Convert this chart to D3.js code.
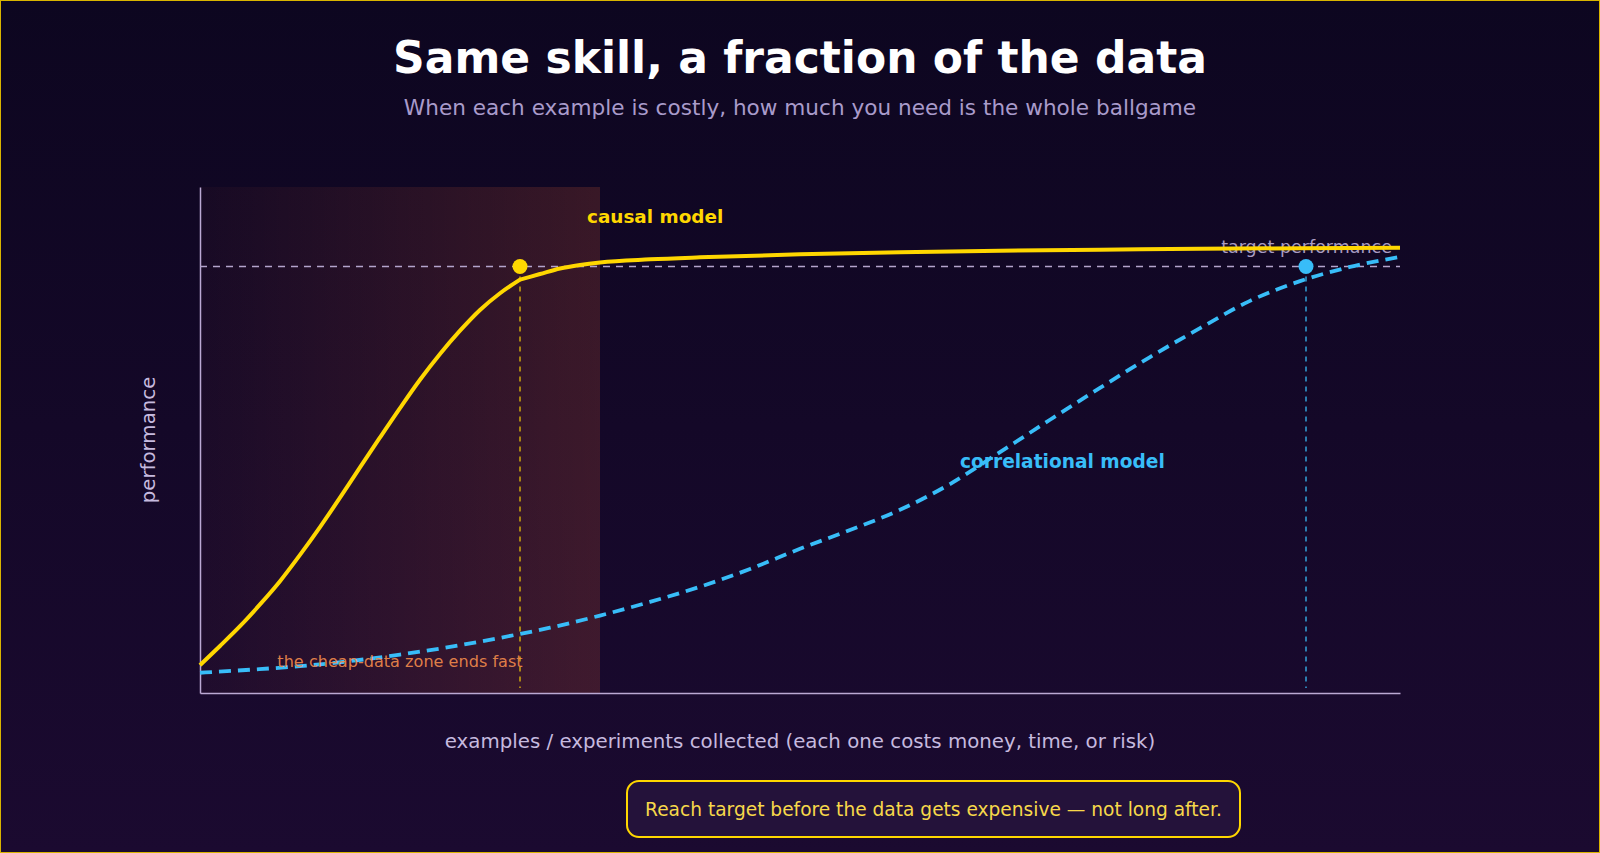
<!DOCTYPE html>
<html>
<head>
<meta charset="utf-8">
<script src="https://cdn.jsdelivr.net/npm/d3@7"></script>
<style>
  html, body { margin: 0; padding: 0; background: #0e0621; }
  svg { display: block; }
  text { font-family: "DejaVu Sans", sans-serif; }
</style>
</head>
<body>
<svg id="chart" width="1600" height="853"></svg>
<script>
// ---- data ----
// causal model: rising phase up to the kink, then the plateau phase
const causalRiseX = [0, 2, 4, 6, 8, 10, 12, 14, 16, 18, 20, 22, 24, 26, 28, 30, 32];
const causalRiseY = [0.055, 0.093, 0.132, 0.175, 0.221, 0.273, 0.328, 0.386, 0.446, 0.505, 0.563, 0.619, 0.670, 0.716, 0.757, 0.790, 0.817];
const causalFlatX = [32, 34, 36, 38, 40, 45, 50, 60, 70, 80, 90, 100, 110, 120];
const causalFlatY = [0.817, 0.828, 0.839, 0.846, 0.851, 0.857, 0.861, 0.867, 0.871, 0.874, 0.876, 0.878, 0.879, 0.880];
const corrX = [0, 5, 10, 15, 20, 25, 30, 35, 40, 45, 50, 55, 60, 65, 70, 75, 80, 85, 90, 95, 100, 105, 110, 115, 120];
const corrY = [0.040, 0.046, 0.053, 0.063, 0.076, 0.091, 0.109, 0.129, 0.153, 0.180, 0.210, 0.245, 0.285, 0.322, 0.362, 0.413, 0.476, 0.540, 0.603, 0.664, 0.721, 0.775, 0.814, 0.842, 0.862];
const targetLevel = 0.843;
const causalHitX = 32;
const corrHitX = 110.6;
const cheapZone = [0, 40];
const xDomain = [0, 120];
const yDomain = [0, 1];

const titleText = "Same skill, a fraction of the data";
const subtitleText = "When each example is costly, how much you need is the whole ballgame";
const xLabel = "examples / experiments collected (each one costs money, time, or risk)";
const yLabel = "performance";
const causalLabel = "causal model";
const corrLabel = "correlational model";
const targetLabel = "target performance";
const zoneLabel = "the cheap-data zone ends fast";
const noteText = "Reach target before the data gets expensive \u2014 not long after.";

// ---- layout ----
const W = 1600, H = 853;
const plot = { left: 200, right: 1400, top: 187, bottom: 693 };
const svg = d3.select("#chart");

const x = d3.scaleLinear().domain(xDomain).range([plot.left, plot.right]);
const y = d3.scaleLinear().domain(yDomain).range([plot.bottom, plot.top]);

const defs = svg.append("defs");
const bg = defs.append("linearGradient").attr("id", "bg").attr("x1", 0).attr("y1", 0).attr("x2", 0).attr("y2", 1);
bg.append("stop").attr("offset", "0%").attr("stop-color", "#0d0620");
bg.append("stop").attr("offset", "100%").attr("stop-color", "#1b0a30");
const zg = defs.append("linearGradient").attr("id", "zone").attr("x1", 0).attr("y1", 0).attr("x2", 1).attr("y2", 0);
zg.append("stop").attr("offset", "0%").attr("stop-color", "#ff6b35").attr("stop-opacity", 0.03);
zg.append("stop").attr("offset", "100%").attr("stop-color", "#ff6b35").attr("stop-opacity", 0.17);

svg.append("rect").attr("width", W).attr("height", H).attr("fill", "url(#bg)");
svg.append("rect").attr("x", 0.5).attr("y", 0.5).attr("width", W - 1).attr("height", H - 1)
  .attr("fill", "none").attr("stroke", "#d9b400").attr("stroke-width", 1);

// title
svg.append("text").attr("x", W / 2).attr("y", 73).attr("text-anchor", "middle")
  .attr("font-size", 44).attr("font-weight", "bold").attr("fill", "#ffffff").text(titleText);
svg.append("text").attr("x", W / 2).attr("y", 115).attr("text-anchor", "middle")
  .attr("font-size", 21.6).attr("fill", "#a99bcb").text(subtitleText);

// cheap zone
svg.append("rect").attr("x", x(cheapZone[0])).attr("y", plot.top)
  .attr("width", x(cheapZone[1]) - x(cheapZone[0])).attr("height", plot.bottom - plot.top)
  .attr("fill", "url(#zone)");

// axes (no ticks)
const xAxis = d3.axisBottom(x).tickValues([]).tickSize(0).tickSizeOuter(0);
const yAxis = d3.axisLeft(y).tickValues([]).tickSize(0).tickSizeOuter(0);
svg.append("g").attr("transform", `translate(0,${plot.bottom})`).call(xAxis)
  .select(".domain").attr("stroke", "#bba9d4").attr("stroke-width", 1.5);
svg.append("g").attr("transform", `translate(${plot.left},0)`).call(yAxis)
  .select(".domain").attr("stroke", "#bba9d4").attr("stroke-width", 1.5);

// target line
svg.append("line").attr("x1", x(xDomain[0])).attr("x2", x(xDomain[1]))
  .attr("y1", y(targetLevel)).attr("y2", y(targetLevel))
  .attr("stroke", "#b4a4cc").attr("stroke-width", 1.5).attr("stroke-dasharray", "7,6");
svg.append("text").attr("x", x(xDomain[1]) - 8).attr("y", y(targetLevel) - 13)
  .attr("text-anchor", "end").attr("font-size", 17.5).attr("fill", "#a99cc2").text(targetLabel);

// vertical drop lines
svg.append("line").attr("x1", x(causalHitX)).attr("x2", x(causalHitX))
  .attr("y1", y(targetLevel)).attr("y2", plot.bottom - 5)
  .attr("stroke", "#ffd700").attr("stroke-opacity", 0.75).attr("stroke-width", 1.5).attr("stroke-dasharray", "5,5");
svg.append("line").attr("x1", x(corrHitX)).attr("x2", x(corrHitX))
  .attr("y1", y(targetLevel)).attr("y2", plot.bottom - 5)
  .attr("stroke", "#38bdf8").attr("stroke-opacity", 0.85).attr("stroke-width", 1.5).attr("stroke-dasharray", "5,5");

// curves
const line = d3.line().x(d => x(d[0])).y(d => y(d[1])).curve(d3.curveMonotoneX);
const zip = (xs, ys) => xs.map((v, i) => [v, ys[i]]);
const corrPts = zip(corrX, corrY);
const causalPath = line(zip(causalRiseX, causalRiseY)) + line(zip(causalFlatX, causalFlatY)).replace(/^M/, "L");

svg.append("path").attr("d", line(corrPts)).attr("fill", "none")
  .attr("stroke", "#38bdf8").attr("stroke-width", 3.8).attr("stroke-dasharray", "12,7");
svg.append("path").attr("d", causalPath).attr("fill", "none")
  .attr("stroke", "#ffd700").attr("stroke-width", 4).attr("stroke-linejoin", "round");

// zone label
svg.append("text").attr("x", (x(cheapZone[0]) + x(cheapZone[1])) / 2).attr("y", 667)
  .attr("text-anchor", "middle").attr("font-size", 16.1).attr("fill", "#f08a4b").attr("fill-opacity", 0.92)
  .text(zoneLabel);

// dots
svg.append("circle").attr("cx", x(causalHitX)).attr("cy", y(targetLevel)).attr("r", 7.5).attr("fill", "#ffd700");
svg.append("circle").attr("cx", x(corrHitX)).attr("cy", y(targetLevel)).attr("r", 7.5).attr("fill", "#38bdf8");

// series labels
svg.append("text").attr("x", 587).attr("y", 223).attr("font-size", 18.4).attr("font-weight", "bold")
  .attr("fill", "#ffd700").text(causalLabel);
svg.append("text").attr("x", 960).attr("y", 468).attr("font-size", 18.6).attr("font-weight", "bold")
  .attr("fill", "#38bdf8").text(corrLabel);

// axis titles
svg.append("text").attr("x", (plot.left + plot.right) / 2).attr("y", 748).attr("text-anchor", "middle")
  .attr("font-size", 19.8).attr("fill", "#c6badf").text(xLabel);
svg.append("text").attr("transform", `translate(155,${(plot.top + plot.bottom) / 2}) rotate(-90)`)
  .attr("text-anchor", "middle").attr("font-size", 19.8).attr("fill", "#c6badf").text(yLabel);

// note box
const box = { x: 627, y: 781, w: 613, h: 56 };
svg.append("rect").attr("x", box.x).attr("y", box.y).attr("width", box.w).attr("height", box.h)
  .attr("rx", 12).attr("fill", "#24123a").attr("stroke", "#ffd700").attr("stroke-width", 2);
svg.append("text").attr("x", box.x + box.w / 2).attr("y", 816).attr("text-anchor", "middle")
  .attr("font-size", 18.6).attr("fill", "#f7d84a").text(noteText);
</script>
</body>
</html>
